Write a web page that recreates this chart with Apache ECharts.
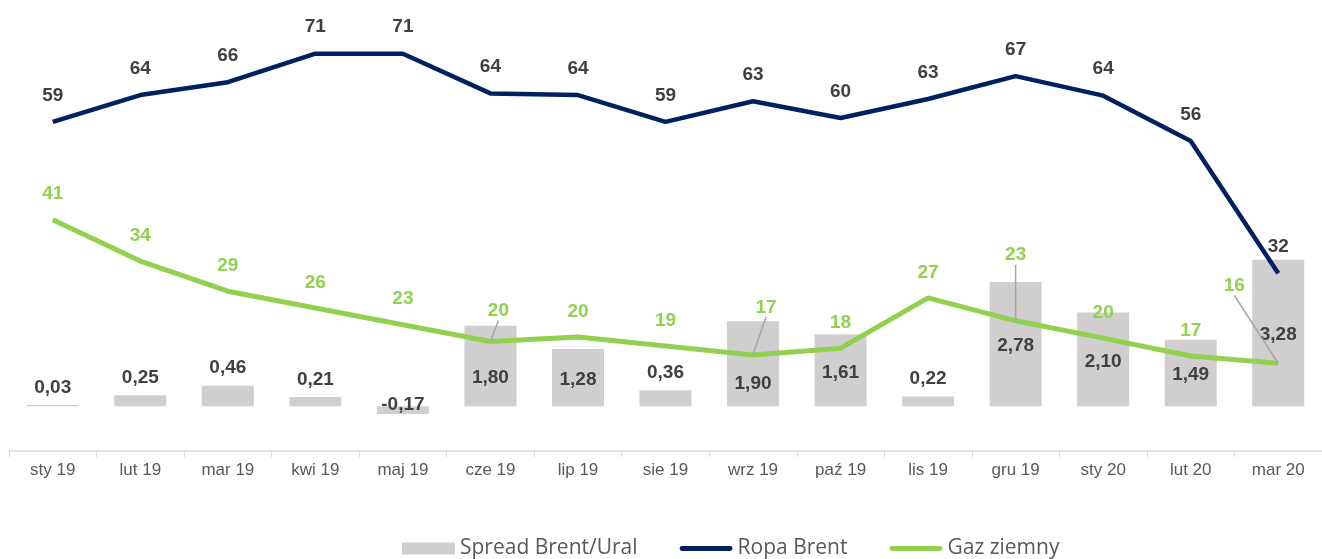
<!DOCTYPE html>
<html>
<head>
<meta charset="utf-8">
<script src="https://cdn.jsdelivr.net/npm/echarts@6/dist/echarts.min.js"></script>
<style>
  html, body { margin: 0; padding: 0; background: #fff; }
  #chart { width: 1322px; height: 559px; }
</style>
</head>
<body>
<div id="chart"></div>
<script>
var months = ["sty 19", "lut 19", "mar 19", "kwi 19", "maj 19", "cze 19", "lip 19", "sie 19", "wrz 19", "paź 19", "lis 19", "gru 19", "sty 20", "lut 20", "mar 20"];
var spread = [0.03, 0.25, 0.46, 0.21, -0.17, 1.80, 1.28, 0.36, 1.90, 1.61, 0.22, 2.78, 2.10, 1.49, 3.28];
var brent = [58.9, 63.7, 66.0, 71.1, 71.1, 64.0, 63.7, 58.9, 62.6, 59.6, 63.0, 67.1, 63.6, 55.5, 31.8];
var gas = [41.4, 34.0, 28.6, 25.6, 22.6, 19.6, 20.4, 18.8, 17.2, 18.4, 27.4, 23.3, 20.2, 17.0, 15.7];

var myChart = echarts.init(document.getElementById('chart'));

// bar labels that were pushed down in the original (away from the gas line)
var spreadMoves = { 5: 10, 8: 18 };
// gas labels moved by hand in the original (with leader lines)
var gasMoves = { 5: [8, -5], 8: [13, -22], 11: [0, -40], 14: [-44, -52] };

var spreadData = spread.map(function (v, i) {
  var lab;
  if (v < 0) lab = { position: 'insideBottom', distance: 0 };
  else if (v < 0.5) lab = { position: 'top', distance: 8 };
  else lab = { position: 'inside', offset: [0, 2 + (spreadMoves[i] || 0)] };
  return { value: v, label: lab };
});

var gasData = gas.map(function (v, i) {
  return { value: v, labelLine: { show: !!gasMoves[i] } };
});

var lineIcon = 'path://M2.5,0 L51.5,0 A2.5,2.5 0 0 1 51.5,5 L2.5,5 A2.5,2.5 0 0 1 2.5,0 Z';

var valueLabel = {
  show: true,
  position: 'top',
  fontFamily: 'Liberation Sans',
  fontWeight: 'bold',
  fontSize: 19,
  formatter: function (p) { return Math.round(p.value); }
};

var option = {
  animation: false,
  grid: { left: 9, width: 1320, top: 4, bottom: 108 },
  legend: {
    top: 533,
    left: 397,
    itemGap: 42,
    itemWidth: 53,
    itemHeight: 12,
    textStyle: { fontFamily: 'Open Sans', fontSize: 21, color: '#595959' },
    data: [
      { name: 'Spread Brent/Ural', icon: 'rect' },
      { name: 'Ropa Brent', icon: lineIcon },
      { name: 'Gaz ziemny', icon: lineIcon }
    ]
  },
  xAxis: {
    type: 'category',
    data: months,
    axisLine: { lineStyle: { color: '#d9d9d9', width: 1.5 } },
    axisTick: { show: true, length: 6, lineStyle: { color: '#d9d9d9' } },
    axisLabel: { color: '#595959', fontFamily: 'Liberation Sans', fontSize: 17, margin: 11 }
  },
  yAxis: [
    { type: 'value', min: 0, max: 80, show: false, splitLine: { show: false } },
    { type: 'value', min: -1, max: 9, show: false, splitLine: { show: false } }
  ],
  series: [
    {
      name: 'Spread Brent/Ural',
      type: 'bar',
      yAxisIndex: 1,
      barWidth: 52,
      itemStyle: { color: '#d0cece' },
      label: {
        show: true,
        color: '#404040',
        fontFamily: 'Liberation Sans',
        fontWeight: 'bold',
        fontSize: 19,
        formatter: function (p) { return p.value.toFixed(2).replace('.', ','); }
      },
      data: spreadData
    },
    {
      name: 'Ropa Brent',
      type: 'line',
      yAxisIndex: 0,
      symbol: 'circle',
      symbolSize: 0.1,
      lineStyle: { color: '#002060', width: 4.5 },
      itemStyle: { color: '#002060' },
      label: Object.assign({}, valueLabel, { color: '#404040', distance: 17 }),
      data: brent
    },
    {
      name: 'Gaz ziemny',
      type: 'line',
      yAxisIndex: 0,
      symbol: 'circle',
      symbolSize: 0.1,
      lineStyle: { color: '#92d050', width: 5 },
      itemStyle: { color: '#92d050' },
      label: Object.assign({}, valueLabel, { color: '#92d050', distance: 16 }),
      labelLine: { lineStyle: { color: '#a6a6a6', width: 1.5 } },
      labelLayout: function (params) {
        var m = gasMoves[params.dataIndex];
        if (!m) return {};
        return { dx: m[0], dy: m[1] };
      },
      data: gasData
    }
  ]
};

myChart.setOption(option);
</script>
</body>
</html>
